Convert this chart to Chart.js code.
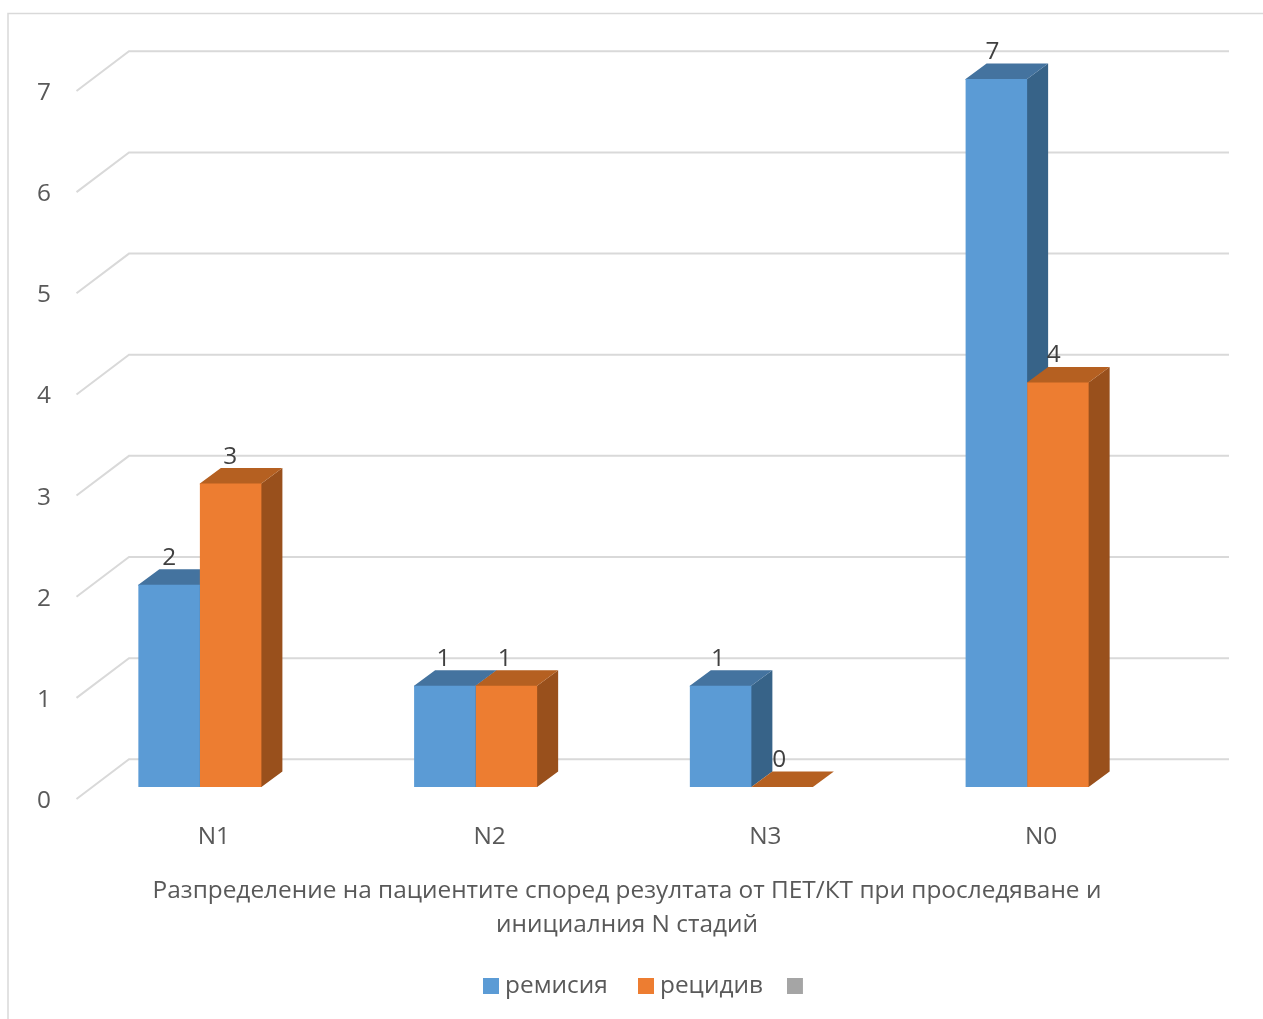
<!DOCTYPE html>
<html>
<head>
<meta charset="utf-8">
<style>html,body{margin:0;padding:0;background:#fff}canvas{display:block}</style>
<script src="https://cdn.jsdelivr.net/npm/chart.js@4/dist/chart.umd.js"></script>
</head>
<body>
<canvas id="c" width="1263" height="1019"></canvas>
<script>
const categories = ['N1', 'N2', 'N3', 'N0'];
const remission = [2, 1, 1, 7];
const relapse = [3, 1, 0, 4];
const third = [];
const seriesNames = ['ремисия', 'рецидив', ''];
const chartTitle = ['Разпределение на пациентите според резултата от ПЕТ/КТ при проследяване и', 'инициалния N стадий'];

const FONT = '"Open Sans"';
const FS = 24.4;
const C = {
  blue: '#5B9BD5', orange: '#ED7D31', gray: '#A5A5A5',
  blueTop: '#44739F', blueSide: '#376388',
  orangeTop: '#B56021', orangeSide: '#99501C',
  grid: '#D9D9D9', tick: '#595959', label: '#404040'
};
const BAR_DX = 21, BAR_DY = 15.5;
const WALL_LEFT = 129, WALL_RIGHT = 1229, WALL_DY = 27.7, SIDE_X = 76.5, SIDE_DY = 12;

function swatch(color, shift) {
  const s = document.createElement('canvas');
  s.width = 16 + 2 * shift; s.height = 16;
  const x = s.getContext('2d');
  x.fillStyle = color; x.fillRect(0, 0, 16, 16);
  return s;
}

const scene = {
  id: 'scene',
  afterLayout(chart) {
    const t = chart.titleBlock, l = chart.legend;
    const tShift = 627 - (t.left + t.right) / 2;
    t.left += tShift; t.right += tShift;
    const th = t.bottom - t.top; t.top = 874; t.bottom = 874 + th;
    const lShift = 652 - (l.left + l.right) / 2;
    l.left += lShift; l.right += lShift;
    const lh = l.bottom - l.top; l.top = 973 - lh / 2; l.bottom = l.top + lh;
  },
  beforeDatasetsDraw(chart) {
    const ctx = chart.ctx, y = chart.scales.y;
    ctx.save();
    ctx.strokeStyle = C.grid; ctx.lineWidth = 1.5;
    ctx.beginPath(); ctx.moveTo(8, 1019); ctx.lineTo(8, 13.5); ctx.lineTo(1263, 13.5); ctx.stroke();
    ctx.lineWidth = 2;
    for (let v = 0; v <= y.max; v++) {
      const p = y.getPixelForValue(v);
      ctx.beginPath();
      ctx.moveTo(SIDE_X, p + SIDE_DY);
      ctx.lineTo(WALL_LEFT, p - WALL_DY);
      ctx.lineTo(WALL_RIGHT, p - WALL_DY);
      ctx.stroke();
    }
    const colours = [[C.blueTop, C.blueSide], [C.orangeTop, C.orangeSide]];
    [0, 1].forEach(di => {
      chart.getDatasetMeta(di).data.forEach(b => {
        const l = b.x - b.width / 2, r = b.x + b.width / 2, t = b.y, bot = b.base;
        const flat = bot - t < 1;
        if (!flat) {
          ctx.fillStyle = colours[di][1];
          ctx.beginPath();
          ctx.moveTo(r - 1, t); ctx.lineTo(r, t); ctx.lineTo(r + BAR_DX, t - BAR_DY);
          ctx.lineTo(r + BAR_DX, bot - BAR_DY); ctx.lineTo(r, bot); ctx.lineTo(r - 1, bot);
          ctx.closePath(); ctx.fill();
        }
        ctx.fillStyle = colours[di][0];
        ctx.beginPath();
        ctx.moveTo(l, t); ctx.lineTo(l + BAR_DX, t - BAR_DY);
        ctx.lineTo(r + BAR_DX, t - BAR_DY); ctx.lineTo(r, t);
        if (!flat) { ctx.lineTo(r, t + 1); ctx.lineTo(l, t + 1); }
        ctx.closePath(); ctx.fill();
      });
    });
    ctx.restore();
  },
  afterDatasetsDraw(chart) {
    const ctx = chart.ctx;
    ctx.save();
    ctx.font = FS + 'px ' + FONT;
    ctx.fillStyle = C.label;
    ctx.textAlign = 'center';
    ctx.textBaseline = 'middle';
    [0, 1].forEach(di => {
      const ds = chart.data.datasets[di];
      chart.getDatasetMeta(di).data.forEach((b, i) => {
        ctx.fillText(String(ds.data[i]), b.x - (b.x - 170) * 0.0048, b.y - 27);
      });
    });
    ctx.restore();
  }
};

new Chart(document.getElementById('c'), {
  type: 'bar',
  data: {
    labels: categories,
    datasets: [
      { label: seriesNames[0], data: remission, backgroundColor: C.blue },
      { label: seriesNames[1], data: relapse, backgroundColor: C.orange },
      { label: seriesNames[2], data: third, backgroundColor: C.gray, grouped: false }
    ]
  },
  options: {
    responsive: false,
    animation: false,
    events: [],
    layout: { padding: { top: 79, right: 98, left: 0, bottom: 0 } },
    datasets: { bar: { barPercentage: 1, categoryPercentage: 0.4462 } },
    scales: {
      x: {
        grid: { display: false },
        border: { display: false },
        afterFit(s) {
          const ch = s.chart;
          s.height = 232 - ch.legend.height - ch.titleBlock.height;
        },
        ticks: {
          color: C.tick, font: { family: FONT, size: FS },
          labelOffset: 14, padding: 27, maxRotation: 0
        }
      },
      y: {
        min: 0, max: 7,
        grid: { display: false, drawTicks: false },
        border: { display: false },
        afterFit(s) { s.width = 62; },
        ticks: {
          stepSize: 1, color: C.tick, font: { family: FONT, size: FS },
          labelOffset: 14, padding: 11
        }
      }
    },
    plugins: {
      tooltip: { enabled: false },
      title: {
        display: true, position: 'bottom', text: chartTitle, color: C.tick,
        font: { family: FONT, size: FS, weight: 'normal', lineHeight: 1.4 },
        padding: 0, weight: 2000
      },
      legend: {
        display: true, position: 'bottom', weight: 1000,
        labels: {
          color: C.tick, font: { family: FONT, size: FS },
          usePointStyle: true, pointStyleWidth: 4, boxHeight: 16, padding: 36,
          generateLabels(chart) {
            return Chart.defaults.plugins.legend.labels.generateLabels(chart)
              .map((l, i) => ({ ...l, pointStyle: swatch(l.fillStyle, i === 2 ? 6 : 0) }));
          }
        }
      }
    }
  },
  plugins: [scene]
});
</script>
</body>
</html>
